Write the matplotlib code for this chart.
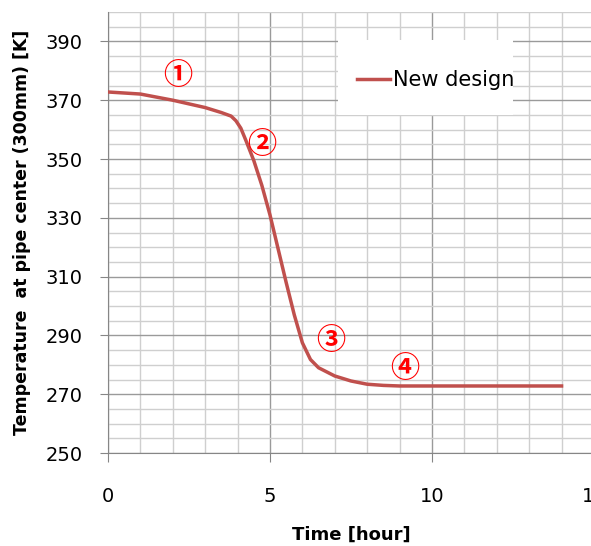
import matplotlib.pyplot as plt
from matplotlib.patches import Rectangle

# time [hour] and temperature [K]
time_h = [0, 1, 2, 3, 3.5, 3.8, 3.95, 4.1, 4.25, 4.5, 4.75, 5.0, 5.25, 5.5, 5.75, 6.0,
          6.25, 6.5, 7.0, 7.5, 8.0, 8.5, 9.0, 10, 11, 12, 13, 14]
temp_k = [372.8, 372.1, 370.0, 367.5, 365.8, 364.6, 363.0, 360.5, 356.5, 349.5, 341.0,
          331.0, 319.5, 308.0, 297.0, 287.5, 281.8, 279.0, 276.2, 274.5, 273.4,
          273.0, 272.8, 272.8, 272.8, 272.8, 272.8, 272.8]

# circled stage markers and where they sit
marks = ['\u2460', '\u2461', '\u2462', '\u2463']
mark_x = [2.16, 4.75, 6.88, 9.17]
mark_y = [378.5, 355.0, 288.6, 279.0]

x_ticks = [0, 5, 10, 15]
y_ticks = [250, 270, 290, 310, 330, 350, 370, 390]

fig = plt.figure(figsize=(5.91, 5.46), dpi=100)
ax = fig.add_axes([0.1827, 0.1703, 0.8223, 0.8077])

ax.plot(time_h, temp_k, color='#C0504D', lw=2.5, label='New design', zorder=3,
        solid_joinstyle='round')

for m, x, y in zip(marks, mark_x, mark_y):
    ax.text(x, y, m, color='#FF0000', fontsize=21, fontweight='bold',
            family=['Noto Sans CJK SC', 'DejaVu Sans'],
            ha='center', va='center', zorder=4)

ax.set_xlim(0, 15)
ax.set_ylim(250, 400)
ax.set_xticks(x_ticks)
ax.set_yticks(y_ticks)
ax.set_xticks(range(0, 16), minor=True)
ax.set_yticks(range(250, 401, 5), minor=True)
ax.tick_params(axis='both', which='major', labelsize=14, direction='out', color='#868686')
ax.tick_params(axis='x', which='major', length=6.5, pad=18)
ax.tick_params(axis='y', which='major', length=6, pad=12)
ax.tick_params(which='minor', length=0)

ax.set_axisbelow(True)
ax.grid(which='major', color='#9a9a9a', lw=1.0)
ax.grid(which='minor', color='#cfcfcf', lw=1.0)

for s in ['top', 'right']:
    ax.spines[s].set_visible(False)
for s in ['left', 'bottom']:
    ax.spines[s].set_color('#868686')

ax.set_xlabel('Time [hour]', fontsize=13, fontweight='bold', labelpad=14)
ax.set_ylabel('Temperature  at pipe center (300mm) [K]', fontsize=12.5, fontweight='bold', labelpad=11)

# white box behind legend
ax.add_patch(Rectangle((0.473, 0.766), 0.36, 0.17, transform=ax.transAxes,
                       facecolor='white', edgecolor='none', zorder=1))
ax.legend(loc='center left', bbox_to_anchor=(0.49, 0.846), frameon=False, fontsize=15,
          borderpad=0, handlelength=1.6, handletextpad=0.15)

fig.savefig('out.png', dpi=100)
